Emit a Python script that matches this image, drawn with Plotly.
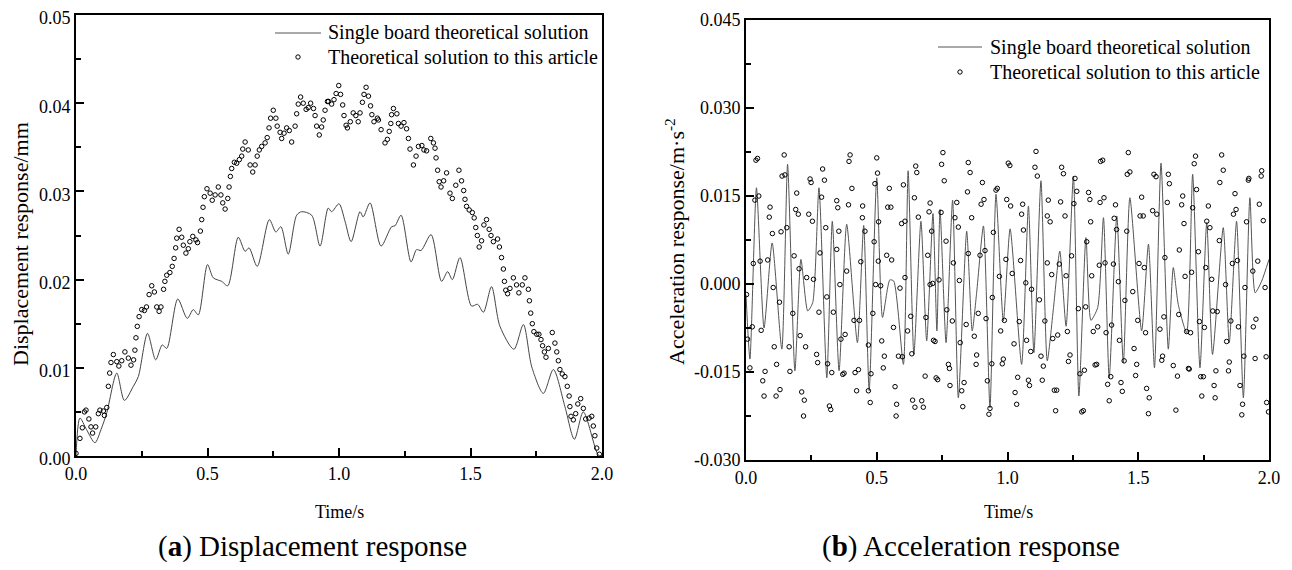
import plotly.graph_objects as go

# page is offset by the browser's 8px body margin: size the figure to fit inside it
OFF = 8
W, H = 1292 - 2 * OFF, 570 - 2 * OFF

# ---------------- (a) Displacement response ----------------
t_line_a = [0, 0.015, 0.04, 0.072, 0.095, 0.117, 0.155, 0.184, 0.218, 0.237, 0.272, 0.303, 0.328, 0.345,
            0.387, 0.423, 0.446, 0.465, 0.50, 0.522, 0.554, 0.577, 0.617, 0.643, 0.658, 0.689, 0.735, 0.760,
            0.779, 0.807, 0.839, 0.858, 0.896, 0.928, 0.959, 0.972, 1.0, 1.023, 1.046, 1.08, 1.092, 1.118,
            1.16, 1.2, 1.213, 1.236, 1.274, 1.295, 1.312, 1.35, 1.39, 1.413, 1.431, 1.46, 1.504, 1.527,
            1.549, 1.58, 1.612, 1.665, 1.701, 1.733, 1.777, 1.815, 1.859, 1.895, 1.929, 1.986, 2.0]
v_line_a = [0.0, 0.0043, 0.003, 0.0015, 0.003, 0.0049, 0.0094, 0.0063, 0.0079, 0.009, 0.0139, 0.0109, 0.0126, 0.0122,
            0.0178, 0.0156, 0.0166, 0.016, 0.0217, 0.0202, 0.0198, 0.0193, 0.0248, 0.0232, 0.0236, 0.0215, 0.0268, 0.0254,
            0.026, 0.0229, 0.0273, 0.0277, 0.0273, 0.0238, 0.0281, 0.0277, 0.0286, 0.0266, 0.0243, 0.0277, 0.0271, 0.0287,
            0.0238, 0.026, 0.0261, 0.0273, 0.022, 0.0234, 0.0233, 0.0251, 0.0198, 0.0209, 0.02, 0.0225, 0.017, 0.0172,
            0.0163, 0.0192, 0.0147, 0.0121, 0.0149, 0.0101, 0.0071, 0.0098, 0.0056, 0.0019, 0.005, 0.0001, 0.0]

t_dots_a = [0.0, 0.015, 0.024, 0.032, 0.038, 0.049, 0.057, 0.063, 0.075, 0.085, 0.091, 0.104, 0.108, 0.117, 0.123,
            0.128, 0.133, 0.142, 0.155, 0.163, 0.174, 0.186, 0.199, 0.209, 0.219, 0.224, 0.228, 0.233, 0.24, 0.25,
            0.26, 0.268, 0.278, 0.288, 0.298, 0.307, 0.316, 0.323, 0.333, 0.338, 0.345, 0.357, 0.366, 0.373, 0.379,
            0.383, 0.392, 0.402, 0.408, 0.418, 0.427, 0.433, 0.444, 0.456, 0.462, 0.473, 0.478, 0.483, 0.488, 0.498,
            0.51, 0.518, 0.529, 0.541, 0.551, 0.558, 0.567, 0.577, 0.582, 0.587, 0.592, 0.602, 0.611, 0.621, 0.63,
            0.634, 0.643, 0.655, 0.662, 0.672, 0.681, 0.689, 0.697, 0.706, 0.719, 0.727, 0.734, 0.74, 0.75, 0.76,
            0.765, 0.776, 0.782, 0.791, 0.801, 0.811, 0.82, 0.833, 0.839, 0.845, 0.854, 0.864, 0.875, 0.883, 0.892,
            0.903, 0.909, 0.915, 0.925, 0.934, 0.94, 0.947, 0.956, 0.96, 0.972, 0.981, 0.989, 0.999, 1.006, 1.014,
            1.019, 1.027, 1.032, 1.043, 1.054, 1.064, 1.073, 1.08, 1.089, 1.095, 1.103, 1.112, 1.12, 1.125, 1.133,
            1.146, 1.15, 1.16, 1.175, 1.184, 1.191, 1.197, 1.2, 1.207, 1.22, 1.226, 1.236, 1.247, 1.257, 1.264,
            1.27, 1.283, 1.293, 1.302, 1.315, 1.323, 1.333, 1.349, 1.359, 1.365, 1.369, 1.375, 1.381, 1.388, 1.398,
            1.409, 1.422, 1.431, 1.444, 1.456, 1.466, 1.474, 1.479, 1.485, 1.495, 1.507, 1.514, 1.52, 1.526, 1.533,
            1.542, 1.551, 1.561, 1.571, 1.578, 1.587, 1.603, 1.61, 1.618, 1.625, 1.629, 1.634, 1.641, 1.65, 1.663,
            1.675, 1.684, 1.697, 1.707, 1.72, 1.724, 1.729, 1.735, 1.741, 1.752, 1.76, 1.768, 1.774, 1.781, 1.787,
            1.796, 1.811, 1.821, 1.828, 1.834, 1.84, 1.849, 1.859, 1.868, 1.875, 1.878, 1.882, 1.891, 1.9, 1.908,
            1.919, 1.929, 1.938, 1.951, 1.961, 1.967, 1.973, 1.98, 1.99]
v_dots_a = [0.0003, 0.002, 0.0032, 0.005, 0.0052, 0.0042, 0.0033, 0.0026, 0.0033, 0.0048, 0.0052, 0.0051, 0.0046, 0.0055, 0.0079,
            0.0094, 0.0106, 0.0115, 0.0107, 0.0102, 0.0108, 0.0118, 0.0111, 0.0103, 0.0109, 0.012, 0.0134, 0.0147, 0.0158, 0.0166,
            0.0165, 0.0169, 0.0183, 0.0193, 0.0186, 0.0169, 0.0164, 0.0169, 0.0189, 0.0198, 0.0205, 0.0208, 0.0215, 0.0224, 0.0236,
            0.0247, 0.0257, 0.0248, 0.0239, 0.023, 0.0235, 0.0243, 0.0249, 0.0245, 0.0242, 0.0255, 0.0268, 0.0282, 0.0294, 0.0303,
            0.0298, 0.029, 0.0296, 0.0305, 0.0296, 0.0287, 0.028, 0.0292, 0.0305, 0.0317, 0.0326, 0.0333, 0.0332, 0.0336, 0.034,
            0.0348, 0.0356, 0.0347, 0.033, 0.0322, 0.033, 0.034, 0.0347, 0.0351, 0.0355, 0.0361, 0.0372, 0.0383, 0.0392, 0.0383,
            0.0374, 0.0367, 0.036, 0.0366, 0.0372, 0.0369, 0.0356, 0.0374, 0.0388, 0.0399, 0.0407, 0.04, 0.0393, 0.0395, 0.04,
            0.0394, 0.0386, 0.0374, 0.0364, 0.0373, 0.0381, 0.0392, 0.0402, 0.0402, 0.0399, 0.0404, 0.0411, 0.042, 0.041, 0.0398,
            0.0386, 0.0375, 0.0372, 0.0379, 0.0389, 0.0386, 0.0379, 0.0389, 0.0401, 0.041, 0.0418, 0.0408, 0.0397, 0.0387, 0.0379,
            0.0383, 0.0381, 0.037, 0.0355, 0.0359, 0.0368, 0.0377, 0.0387, 0.0394, 0.0388, 0.0377, 0.0374, 0.0378, 0.0371, 0.036,
            0.0348, 0.033, 0.034, 0.0351, 0.0352, 0.0347, 0.0346, 0.036, 0.0355, 0.0349, 0.0338, 0.0324, 0.0311, 0.0305, 0.0312,
            0.0321, 0.0298, 0.0292, 0.0307, 0.0324, 0.0312, 0.0301, 0.0291, 0.0283, 0.0279, 0.0276, 0.027, 0.0259, 0.025, 0.0237,
            0.0244, 0.0262, 0.0268, 0.0257, 0.025, 0.0243, 0.0246, 0.0237, 0.0225, 0.0212, 0.0198, 0.0188, 0.0184, 0.019, 0.0202,
            0.0194, 0.0185, 0.0194, 0.0202, 0.0189, 0.0176, 0.0162, 0.015, 0.0141, 0.0138, 0.0138, 0.0132, 0.0125, 0.0118, 0.0112,
            0.0122, 0.014, 0.0128, 0.0118, 0.0108, 0.0098, 0.0093, 0.009, 0.0079, 0.0068, 0.0056, 0.0045, 0.0041, 0.0048, 0.0059,
            0.0065, 0.0054, 0.0042, 0.0043, 0.0045, 0.0034, 0.0023, 0.0009, 0.0002]

# ---------------- (b) Acceleration response ----------------
t_line_b = [0.000, 0.015, 0.040, 0.069, 0.100, 0.137, 0.159, 0.187, 0.210, 0.236, 0.255, 0.279, 0.309, 0.330,
            0.356, 0.385, 0.426, 0.450, 0.471, 0.500, 0.522, 0.550, 0.565, 0.602, 0.620, 0.642, 0.669, 0.691,
            0.715, 0.730, 0.742, 0.765, 0.790, 0.812, 0.844, 0.865, 0.882, 0.908, 0.933, 0.956, 0.984, 1.010,
            1.054, 1.080, 1.101, 1.128, 1.152, 1.176, 1.200, 1.224, 1.252, 1.273, 1.300, 1.319, 1.345, 1.367,
            1.389, 1.418, 1.443, 1.468, 1.513, 1.539, 1.562, 1.587, 1.615, 1.634, 1.653, 1.685, 1.708, 1.736,
            1.762, 1.784, 1.825, 1.848, 1.876, 1.902, 1.927, 1.947, 1.972, 2.000]
v_line_b = [-0.0018, -0.0128, 0.0164, -0.0075, 0.0070, -0.0111, 0.0204, -0.0148, 0.0042, -0.0046, -0.0032, 0.0164, -0.0160, 0.0107,
            -0.0148, 0.0102, -0.0100, 0.0100, -0.0182, 0.0181, -0.0057, 0.0007, 0.0005, -0.0137, 0.0193, -0.0120, 0.0107, -0.0097,
            0.0120, -0.0080, 0.0127, -0.0100, 0.0143, -0.0194, 0.0090, -0.0080, -0.0015, 0.0099, -0.0211, 0.0153, -0.0063, 0.0094,
            -0.0137, 0.0133, -0.0117, 0.0176, -0.0131, -0.0040, 0.0056, -0.0072, 0.0184, -0.0191, 0.0079, -0.0062, -0.0040, 0.0113,
            -0.0160, 0.0116, -0.0134, 0.0147, -0.0080, 0.0068, -0.0143, 0.0206, -0.0111, 0.0028, -0.0035, -0.0083, 0.0187, -0.0143,
            0.0105, -0.0120, 0.0096, -0.0100, 0.0107, -0.0194, 0.0147, -0.0015, 0.0005, 0.0042]

t_dots_b = [0.034, 0.038, 0.044, 0.049, 0.092, 0.089, 0.101, 0.146, 0.138, 0.149, 0.156, 0.134, 0.194, 0.190, 0.200,
            0.240, 0.245, 0.249, 0.254, 0.293, 0.300, 0.289, 0.305, 0.347, 0.351, 0.355, 0.392, 0.394, 0.398, 0.405,
            0.446, 0.445, 0.455, 0.500, 0.503, 0.493, 0.507, 0.548, 0.542, 0.554, 0.595, 0.602, 0.608, 0.649, 0.653,
            0.644, 0.659, 0.704, 0.700, 0.710, 0.748, 0.753, 0.758, 0.746, 0.799, 0.806, 0.812, 0.850, 0.847, 0.857,
            0.904, 0.899, 0.910, 0.863, 0.956, 0.961, 1.003, 1.009, 0.997, 1.012, 1.058, 1.054, 1.061, 1.109, 1.105,
            1.114, 1.156, 1.152, 1.163, 1.207, 1.214, 1.203, 1.220, 1.258, 1.265, 1.254, 1.310, 1.315, 1.318, 1.356,
            1.364, 1.369, 1.354, 1.413, 1.408, 1.417, 1.462, 1.458, 1.468, 1.513, 1.507, 1.519, 1.560, 1.568, 1.555,
            1.571, 1.615, 1.619, 1.611, 1.670, 1.666, 1.675, 1.719, 1.714, 1.723, 1.708, 1.768, 1.762, 1.774, 1.819,
            1.825, 1.812, 1.870, 1.874, 1.864, 1.921, 1.923, 1.914, 1.972, 1.970, 1.963, 1.978,
            0.002, 0.006, 0.024, 0.028, 0.015, 0.054, 0.058, 0.064, 0.069, 0.073, 0.083, 0.104, 0.108, 0.117, 0.128,
            0.130, 0.115, 0.165, 0.168, 0.179, 0.184, 0.203, 0.207, 0.213, 0.220, 0.223, 0.228, 0.232, 0.258, 0.270,
            0.274, 0.279, 0.283, 0.309, 0.312, 0.319, 0.324, 0.328, 0.334, 0.347, 0.359, 0.363, 0.370, 0.375, 0.379,
            0.385, 0.413, 0.417, 0.423, 0.430, 0.434, 0.439, 0.468, 0.468, 0.475, 0.478, 0.485, 0.490, 0.496, 0.506,
            0.515, 0.519, 0.525, 0.529, 0.538, 0.557, 0.564, 0.570, 0.576, 0.574, 0.583, 0.589, 0.598, 0.608, 0.618,
            0.630, 0.634, 0.637, 0.646, 0.672, 0.678, 0.685, 0.688, 0.695, 0.704, 0.714, 0.717, 0.723, 0.727, 0.733,
            0.738, 0.765, 0.768, 0.774, 0.778, 0.780, 0.789, 0.793, 0.816, 0.819, 0.825, 0.829, 0.834, 0.842, 0.850,
            0.873, 0.882, 0.880, 0.888, 0.895, 0.914, 0.918, 0.923, 0.929, 0.933, 0.940, 0.942, 0.946, 0.969, 0.974,
            0.980, 0.984, 0.988, 0.994, 1.018, 1.025, 1.029, 1.035, 1.039, 1.045, 1.050, 1.070, 1.073, 1.080, 1.084,
            1.089, 1.092, 1.122, 1.128, 1.133, 1.137, 1.143, 1.152, 1.169, 1.173, 1.179, 1.188, 1.184, 1.192, 1.198,
            1.224, 1.229, 1.233, 1.239, 1.245, 1.271, 1.277, 1.284, 1.290, 1.294, 1.299, 1.303, 1.322, 1.328, 1.335,
            1.341, 1.345, 1.351, 1.373, 1.377, 1.383, 1.389, 1.395, 1.398, 1.405, 1.424, 1.428, 1.434, 1.439, 1.446,
            1.449, 1.456, 1.479, 1.484, 1.490, 1.494, 1.498, 1.503, 1.523, 1.528, 1.532, 1.539, 1.542, 1.583, 1.590,
            1.593, 1.598, 1.602, 1.634, 1.644, 1.650, 1.655, 1.657, 1.679, 1.685, 1.692, 1.695, 1.700, 1.704, 1.730,
            1.734, 1.739, 1.743, 1.749, 1.753, 1.758, 1.781, 1.785, 1.790, 1.794, 1.797, 1.802, 1.810, 1.834, 1.838,
            1.845, 1.848, 1.854, 1.860, 1.879, 1.883, 1.889, 1.896, 1.899, 1.904, 1.908, 1.938, 1.940, 1.947, 1.950,
            1.957, 1.985, 1.989, 1.991, 1.998]
v_dots_b = [0.0143, 0.0211, 0.0214, 0.0150, 0.0131, 0.0114, 0.0086, 0.0220, 0.0184, 0.0186, 0.0096, 0.0089, 0.0155, 0.0127, 0.0119,
            0.0119, 0.0179, 0.0173, 0.0107, 0.0196, 0.0177, 0.0148, 0.0096, 0.0142, 0.0130, 0.0090, 0.0135, 0.0209, 0.0220, 0.0163,
            0.0133, 0.0113, 0.0090, 0.0215, 0.0189, 0.0171, 0.0106, 0.0163, 0.0131, 0.0131, 0.0103, 0.0169, 0.0107, 0.0201, 0.0190,
            0.0147, 0.0114, 0.0138, 0.0123, 0.0090, 0.0204, 0.0224, 0.0176, 0.0122, 0.0113, 0.0139, 0.0097, 0.0207, 0.0157, 0.0190,
            0.0173, 0.0136, 0.0144, 0.0113, 0.0160, 0.0163, 0.0206, 0.0202, 0.0144, 0.0133, 0.0136, 0.0119, 0.0092, 0.0226, 0.0199,
            0.0184, 0.0143, 0.0116, 0.0106, 0.0199, 0.0188, 0.0140, 0.0116, 0.0180, 0.0158, 0.0137, 0.0156, 0.0144, 0.0106, 0.0209,
            0.0211, 0.0147, 0.0139, 0.0135, 0.0112, 0.0093, 0.0224, 0.0187, 0.0191, 0.0148, 0.0116, 0.0116, 0.0187, 0.0183, 0.0125,
            0.0119, 0.0187, 0.0171, 0.0139, 0.0150, 0.0135, 0.0103, 0.0218, 0.0205, 0.0161, 0.0130, 0.0133, 0.0107, 0.0096, 0.0220,
            0.0194, 0.0173, 0.0154, 0.0127, 0.0119, 0.0177, 0.0180, 0.0106, 0.0193, 0.0184, 0.0136, 0.0108,
            -0.0018, -0.0094, -0.0073, 0.0035, -0.0143, 0.0039, -0.0079, -0.0165, -0.0191, -0.0149, 0.0041, -0.0006, -0.0107, -0.0137, -0.0031,
            -0.0180, -0.0191, -0.0107, -0.0149, -0.0050, 0.0048, 0.0026, -0.0088, -0.0184, -0.0225, -0.0198, -0.0107, 0.0011, 0.0008, -0.0120,
            -0.0134, -0.0048, 0.0053, -0.0022, -0.0136, -0.0208, -0.0214, -0.0151, -0.0048, 0.0059, -0.0001, -0.0094, -0.0154, -0.0152, -0.0086,
            0.0022, -0.0062, -0.0151, -0.0182, -0.0146, -0.0062, 0.0038, -0.0104, -0.0182, -0.0202, -0.0153, -0.0050, 0.0072, -0.0001, 0.0039,
            -0.0003, -0.0097, -0.0143, -0.0123, 0.0049, 0.0041, -0.0074, -0.0175, -0.0205, -0.0225, -0.0123, -0.0007, -0.0124, 0.0011, -0.0080,
            -0.0055, -0.0119, -0.0198, -0.0210, -0.0199, -0.0210, -0.0157, -0.0057, 0.0049, -0.0001, 0.0001, -0.0096, -0.0098, -0.0160, -0.0163,
            0.0007, 0.0073, -0.0044, -0.0137, -0.0144, -0.0173, -0.0063, 0.0036, 0.0006, -0.0100, -0.0182, -0.0209, -0.0168, -0.0069, 0.0052,
            -0.0089, -0.0121, -0.0137, -0.0050, 0.0049, 0.0057, -0.0059, -0.0165, -0.0222, -0.0212, -0.0136, -0.0023, 0.0088, 0.0013, -0.0080,
            -0.0136, -0.0128, -0.0062, 0.0042, 0.0018, -0.0102, -0.0185, -0.0205, -0.0159, -0.0064, 0.0040, 0.0002, -0.0096, -0.0164, -0.0173,
            -0.0115, -0.0009, -0.0027, -0.0123, -0.0164, -0.0140, -0.0063, 0.0036, 0.0016, -0.0093, -0.0181, -0.0181, -0.0216, -0.0087, 0.0034,
            0.0014, -0.0081, -0.0132, -0.0121, 0.0048, -0.0042, -0.0153, -0.0218, -0.0216, -0.0147, -0.0039, 0.0072, 0.0014, -0.0081, -0.0138,
            -0.0137, -0.0073, 0.0032, 0.0036, -0.0083, -0.0171, -0.0199, -0.0158, -0.0070, 0.0034, 0.0004, -0.0096, -0.0168, -0.0183, -0.0131,
            -0.0028, 0.0090, -0.0013, -0.0110, -0.0156, -0.0137, -0.0062, 0.0035, 0.0028, -0.0083, -0.0178, -0.0221, -0.0194, -0.0077, -0.0130,
            -0.0123, -0.0056, 0.0045, -0.0139, -0.0215, -0.0157, -0.0052, 0.0058, 0.0013, -0.0081, -0.0144, -0.0145, -0.0083, 0.0020, 0.0055,
            -0.0064, -0.0158, -0.0191, -0.0158, -0.0074, 0.0028, 0.0008, -0.0046, -0.0173, -0.0194, -0.0148, -0.0047, 0.0074, -0.0001, -0.0098,
            -0.0148, -0.0133, -0.0063, 0.0035, 0.0040, -0.0073, -0.0173, -0.0223, -0.0205, -0.0123, -0.0006, 0.0022, -0.0073, -0.0127, -0.0060,
            0.0039, -0.0006, -0.0124, -0.0202, -0.0218]

x_ticks = [0, 0.5, 1.0, 1.5, 2.0]
x_ticktext = ["0.0", "0.5", "1.0", "1.5", "2.0"]
x_minor = [0.25, 0.75, 1.25, 1.75]
ya_ticks = [0, 0.01, 0.02, 0.03, 0.04, 0.05]
ya_ticktext = ["0.00", "0.01", "0.02", "0.03", "0.04", "0.05"]
ya_minor = [0.005, 0.015, 0.025, 0.035, 0.045]
yb_ticks = [-0.03, -0.015, 0.0, 0.015, 0.03, 0.045]
yb_ticktext = ["-0.030", "-0.015", "0.000", "0.015", "0.030", "0.045"]
yb_minor = [-0.0225, -0.0075, 0.0075, 0.0225, 0.0375]

series_names = ["Single board theoretical solution", "Theoretical solution to this article"]
captions = ["(<b>a</b>) Displacement response", "(<b>b</b>) Acceleration response"]

FONT = "Liberation Serif"

fig = go.Figure()
fig.add_trace(go.Scatter(x=t_line_a, y=v_line_a, mode="lines", line=dict(color="#444444", width=1, shape="spline", smoothing=0.8),
                         xaxis="x", yaxis="y", showlegend=False))
fig.add_trace(go.Scatter(x=t_dots_a, y=v_dots_a, mode="markers",
                         marker=dict(symbol="circle-open", size=4.5, color="black", line=dict(width=1, color="black")),
                         xaxis="x", yaxis="y", showlegend=False))
fig.add_trace(go.Scatter(x=t_line_b, y=v_line_b, mode="lines", line=dict(color="#555555", width=1, shape="spline", smoothing=0.6),
                         xaxis="x2", yaxis="y2", showlegend=False))
fig.add_trace(go.Scatter(x=t_dots_b, y=v_dots_b, mode="markers",
                         marker=dict(symbol="circle-open", size=4.5, color="black", line=dict(width=1, color="black")),
                         xaxis="x2", yaxis="y2", showlegend=False))

def px(x):
    return (x - OFF) / W

def py(y):
    return 1 - (y - OFF) / H

axis_common = dict(showline=True, linewidth=2, linecolor="black", mirror=True, showgrid=False, zeroline=False,
                   ticks="inside", ticklen=8, tickwidth=1.5, tickcolor="black", automargin=False,
                   ticklabeloverflow="allow",
                   tickfont=dict(family=FONT, size=18, color="black"))

fig.update_layout(
    width=W, height=H, margin=dict(l=0, r=0, t=0, b=0, pad=0, autoexpand=False),
    paper_bgcolor="white", plot_bgcolor="white",
    xaxis=dict(domain=[px(76), px(602)], range=[0, 2], anchor="y", tickmode="array", tickvals=x_ticks, ticktext=x_ticktext,
               minor=dict(tickvals=x_minor, ticks="inside", ticklen=5, tickwidth=1.5, tickcolor="black"), **axis_common),
    yaxis=dict(domain=[py(456), py(15)], range=[0, 0.05], anchor="x", tickmode="array", tickvals=ya_ticks, ticktext=ya_ticktext,
               ticklabelshift=3,
               minor=dict(tickvals=ya_minor, ticks="inside", ticklen=5, tickwidth=1.5, tickcolor="black"), **axis_common),
    xaxis2=dict(domain=[px(746), px(1269)], range=[0, 2], anchor="y2", tickmode="array", tickvals=x_ticks, ticktext=x_ticktext,
                minor=dict(tickvals=x_minor, ticks="inside", ticklen=5, tickwidth=1.5, tickcolor="black"), **axis_common),
    yaxis2=dict(domain=[py(460), py(20)], range=[-0.03, 0.045], anchor="x2", tickmode="array", tickvals=yb_ticks, ticktext=yb_ticktext,
                minor=dict(tickvals=yb_minor, ticks="inside", ticklen=5, tickwidth=1.5, tickcolor="black"), **axis_common),
)

ann = []
tf = dict(family=FONT, size=22, color="black")
ann.append(dict(x=px(20), y=py(244), xref="paper", yref="paper", text="Displacement response/mm", textangle=-90,
                showarrow=False, font=tf, xanchor="center", yanchor="middle"))
ann.append(dict(x=px(675), y=py(242), xref="paper", yref="paper", text="Acceleration response/m·s<sup>-2</sup>", textangle=-90,
                showarrow=False, font=tf, xanchor="center", yanchor="middle"))
ann.append(dict(x=px(339), y=py(512), xref="paper", yref="paper", text="Time/s", showarrow=False,
                xanchor="center", yanchor="middle", font=dict(family=FONT, size=18, color="black")))
ann.append(dict(x=px(1008), y=py(512), xref="paper", yref="paper", text="Time/s", showarrow=False,
                xanchor="center", yanchor="middle", font=dict(family=FONT, size=18, color="black")))
ann.append(dict(x=px(312), y=py(546), xref="paper", yref="paper", text=captions[0], showarrow=False,
                xanchor="center", yanchor="middle", font=dict(family=FONT, size=29, color="black")))
ann.append(dict(x=px(971), y=py(546), xref="paper", yref="paper", text=captions[1], showarrow=False,
                xanchor="center", yanchor="middle", font=dict(family=FONT, size=29, color="black")))

# legends
lf = dict(family=FONT, size=20, color="black")
shapes = []
for (lx0, lx1, ly1, dx, ly2, tx) in [(275, 321, 33, 298, 57, 326), (938, 982, 47, 960, 72, 988)]:
    shapes.append(dict(type="line", xref="paper", yref="paper", x0=px(lx0), x1=px(lx1), y0=py(ly1), y1=py(ly1),
                       line=dict(color="#555555", width=1)))
    shapes.append(dict(type="circle", xref="paper", yref="paper", xsizemode="pixel", ysizemode="pixel",
                       xanchor=px(dx), yanchor=py(ly2), x0=-2.2, x1=2.2, y0=-2.2, y1=2.2,
                       line=dict(color="black", width=1)))
    ann.append(dict(x=px(tx), y=py(ly1), xref="paper", yref="paper", text=series_names[0], showarrow=False,
                    font=lf, xanchor="left", yanchor="middle"))
    ann.append(dict(x=px(tx), y=py(ly2), xref="paper", yref="paper", text=series_names[1], showarrow=False,
                    font=lf, xanchor="left", yanchor="middle"))

fig.update_layout(annotations=ann, shapes=shapes)
fig.write_html("out.html")
